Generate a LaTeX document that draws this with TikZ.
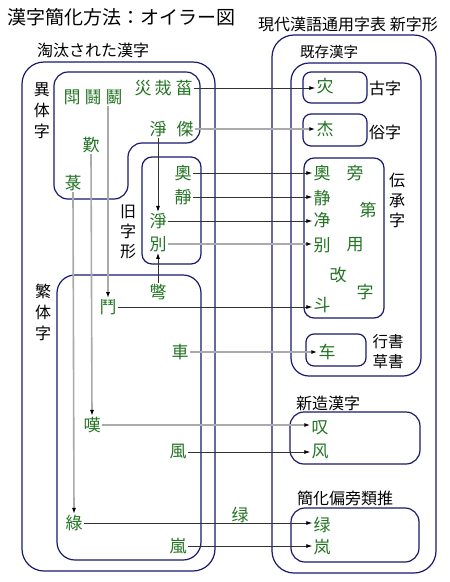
\documentclass[tikz,border=0pt]{standalone}
\usepackage{fontspec}
\setmainfont{Noto Sans CJK JP}
\usetikzlibrary{arrows.meta}
\definecolor{kanjigreen}{RGB}{35,115,35}
\definecolor{boxblue}{RGB}{25,25,110}
\definecolor{lightline}{RGB}{170,170,170}
\definecolor{darkline}{RGB}{50,50,50}
\tikzset{
  box/.style={draw=boxblue, line width=1.2pt},
  kanji/.style={text=kanjigreen, font=\fontsize{17}{17}\selectfont, inner sep=1pt},
  lbl/.style={font=\fontsize{16}{21}\selectfont, align=center, inner sep=0pt},
  darkarrow/.style={draw=darkline, line width=0.8pt, -{Latex[length=6pt,width=4pt,color=black]}},
  greyarrow/.style={draw=lightline, line width=1.6pt, -{Latex[length=6pt,width=4pt,color=black]}},
}

\begin{document}
\begin{tikzpicture}[x=1pt, y=-1pt]
        \useasboundingbox (0,0) rectangle (450,582);
        \node[lbl, anchor=west, font=\fontsize{19}{19}\selectfont] (title) at (7,17) {漢字簡化方法：オイラー図};
        \node[lbl, anchor=west] (toutai) at (37,50) {淘汰された漢字};
        \node[lbl, anchor=west] (gendai) at (258,24) {現代漢語通用字表 新字形};
        % left boxes
        \draw[box, rounded corners=22pt] (22,62) rectangle (215,571);
        \draw[box, rounded corners=14pt] (54,72) -- (200,72) -- (200,143) -- (128,143) -- (128,199) -- (54,199) -- cycle;
        \draw[box, rounded corners=10pt] (142,157) rectangle (201,264);
        \draw[box, rounded corners=18pt] (57,275) rectangle (201,560);
        \node[lbl] (itai) at (42,111) {異\\体\\字};
        \node[lbl, font=\fontsize{16}{20}\selectfont] (kyuji) at (128,232) {旧\\字\\形};
        \node[lbl] (hantai) at (43,312) {繁\\体\\字};
        % right boxes
        \draw[box, rounded corners=22pt] (272,35) rectangle (436,573);
        \draw[box, rounded corners=18pt] (291,63) rectangle (421,376);
        \draw[box, rounded corners=8pt] (303,72) rectangle (367,103);
        \draw[box, rounded corners=8pt] (303,114) rectangle (367,146);
        \draw[box, rounded corners=10pt] (304,158) rectangle (384,318);
        \draw[box, rounded corners=8pt] (306,334) rectangle (366,366);
        \draw[box, rounded corners=14pt] (290,412) rectangle (420,464);
        \draw[box, rounded corners=14pt] (291,508) rectangle (419,562);
        \node[lbl, anchor=west, font=\fontsize{14.5}{14.5}\selectfont] (kison) at (300,52) {既存漢字};
        \node[lbl] (koji) at (385,88) {古字};
        \node[lbl] (zokuji) at (385,132) {俗字};
        \node[lbl, font=\fontsize{16}{20}\selectfont] (denshou) at (397,200) {伝\\承\\字};
        \node[lbl, font=\fontsize{15.5}{20}\selectfont] (sousho) at (388,352) {行書\\草書};
        \node[lbl, anchor=west] (shinzou) at (296,403) {新造漢字};
        \node[lbl, anchor=west] (ruisui) at (297,498) {簡化偏旁類推};
        % eliminated characters
        \node[kanji] (dou1) at (72,97) {閗};
        \node[kanji] (dou2) at (93,97) {鬪};
        \node[kanji] (dou3) at (114,97) {鬭};
        \node[kanji] (zai1) at (143,88) {災};
        \node[kanji] (zai2) at (163,88) {烖};
        \node[kanji] (zai3) at (184,88) {菑};
        \node[kanji] (jing1) at (158,129) {淨};
        \node[kanji] (jie1) at (185,129) {傑};
        \node[kanji] (tan1) at (91,145) {歎};
        \node[kanji] (lu1) at (73,183) {菉};
        \node[kanji] (ao1) at (183,173) {奧};
        \node[kanji] (jing2) at (183,197) {靜};
        \node[kanji] (jing3) at (158,221) {淨};
        \node[kanji] (bie1) at (158,244) {別};
        \node[kanji] (bie2) at (158,292) {彆};
        \node[kanji] (men) at (108,307) {鬥};
        \node[kanji] (che1) at (180,352) {車};
        \node[kanji] (tan2) at (92,425) {嘆};
        \node[kanji] (feng1) at (178,452) {風};
        \node[kanji] (lu2) at (74,523) {綠};
        \node[kanji] (lan1) at (178,546) {嵐};
        % new characters
        \node[kanji] (zai) at (325,86) {灾};
        \node[kanji] (jie) at (325,129) {杰};
        \node[kanji] (ao) at (322,173) {奧};
        \node[kanji] (pang) at (355,173) {旁};
        \node[kanji] (jing) at (322,198) {静};
        \node[kanji] (di) at (368,210) {第};
        \node[kanji] (jingb) at (322,220) {净};
        \node[kanji] (bie) at (322,245) {别};
        \node[kanji] (yong) at (355,245) {用};
        \node[kanji] (gai) at (338,275) {改};
        \node[kanji] (zi) at (365,292) {字};
        \node[kanji] (dou) at (322,305) {斗};
        \node[kanji] (che) at (327,352) {车};
        \node[kanji] (tan) at (320,428) {叹};
        \node[kanji] (feng) at (320,451) {风};
        \node[kanji] (lu) at (322,525) {绿};
        \node[kanji] (lan) at (322,547) {岚};
        \node[kanji] (lumid) at (240,515) {绿};
        % connectors
        \draw[darkarrow] (zai3.east) -- (zai3.east -| zai.west);
        \draw[greyarrow] (jie1.east) -- (jie1.east -| jie.west);
        \draw[darkarrow] (jing1.south) -- (jing3.north);
        \draw[darkarrow] (ao1.east) -- (ao1.east -| ao.west);
        \draw[darkarrow] (jing2.east) -- (jing2.east -| jing.west);
        \draw[darkarrow] (jing3.east) -- (jing3.east -| jingb.west);
        \draw[greyarrow] (bie1.east) -- (bie1.east -| bie.west);
        \draw[darkarrow] (bie2.north) -- (bie1.south);
        \draw[greyarrow] (dou3.south -| men) -- (men.north);
        \draw[darkarrow] (men.east) -- (men.east -| dou.west);
        \draw[greyarrow] (che1.east) -- (che1.east -| che.west);
        \draw[greyarrow] (tan1.south) -- (tan2.north);
        \draw[greyarrow] (tan2.east) -- (tan2.east -| tan.west);
        \draw[darkarrow] (feng1.east) -- (feng1.east -| feng.west);
        \draw[greyarrow] (lu1.south) -- (lu2.north);
        \draw[darkarrow] (lu2.east) -- (lu2.east -| lu.west);
        \draw[darkarrow] (lan1.east) -- (lan1.east -| lan.west);
\end{tikzpicture}
\end{document}
